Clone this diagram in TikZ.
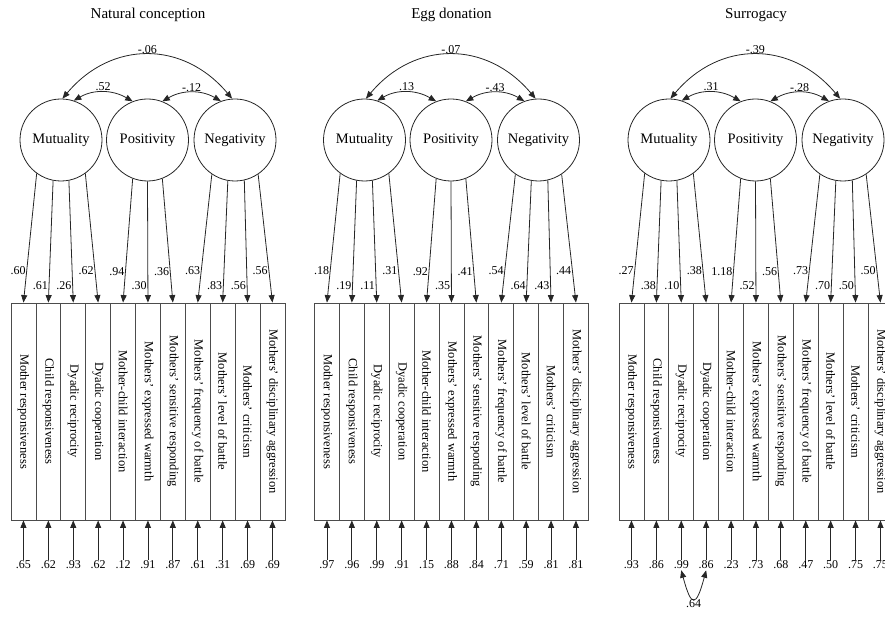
\documentclass[tikz,border=0pt]{standalone}
\usepackage{graphicx}
\usepackage{fontspec}
\setmainfont{Liberation Serif}
\usetikzlibrary{arrows.meta}

\tikzset{
  grouptitle/.style={font=\fontsize{15}{17}\selectfont},
  latent/.style={draw=black!85, line width=0.8pt, circle, minimum size=82pt, inner sep=0pt, font=\fontsize{14.5}{16}\selectfont},
  indicator/.style={draw=black!70, line width=0.8pt, minimum width=24.9pt, minimum height=217pt, inner sep=0pt, font=\fontsize{12.5}{14}\selectfont},
  coef/.style={font=\fontsize{12}{13}\selectfont, inner sep=1pt},
  loadarrow/.style={draw=black!85, line width=0.8pt, -{Triangle[length=7.5pt,width=6pt]}},
  covarrow/.style={draw=black!85, line width=0.8pt, {Triangle[length=7.5pt,width=6pt]}-{Triangle[length=7.5pt,width=6pt]}},
}

% indicator names, in box order
\newcommand{\itemname}[1]{\ifcase#1\or Mother responsiveness\or Child responsiveness\or Dyadic reciprocity\or Dyadic cooperation\or Mother-child interaction\or Mothers’ expressed warmth\or Mothers’ sensitive responding\or Mothers’ frequency of battle\or Mothers’ level of battle\or Mothers’ criticism\or Mothers’ disciplinary aggression\fi}

% one group: #1 id, #2 shift, #3 title, #4-#6 factor correlations, #7 loading/error pairs
\newcommand{\semgroup}[7]{%
\begin{scope}[xshift=#2pt]
\node[grouptitle] (title-#1) at (148,603) {#3};

% latent factors
\node[latent] (mut-#1) at (61,478) {Mutuality};
\node[latent] (pos-#1) at (147.5,478) {Positivity};
\node[latent] (neg-#1) at (235,478) {Negativity};

% correlations
\draw[covarrow] (mut-#1.72) to[out=30,in=150] node[coef,above] (rmp-#1) {#4} (pos-#1.111);
\draw[covarrow] (pos-#1.69) to[out=30,in=150] node[coef,above] (rpn-#1) {#5} (neg-#1.110);
\draw[covarrow] (mut-#1.88) to[out=50,in=130,looseness=1.15] node[coef,above] (rmn-#1) {#6} (neg-#1.94);

% indicators and loadings
\foreach \i/\src/\ang/\lp in {1/mut/234/.75, 2/mut/259/.86, 3/mut/281/.86, 4/mut/306/.75,
    5/pos/249/.75, 6/pos/270/.86, 7/pos/291/.75,
    8/neg/236/.75, 9/neg/260/.86, 10/neg/283/.86, 11/neg/304/.75} {
  \node[indicator] (ind-#1-\i) at ({11+24.9*(\i-0.5)},206.5) {\rotatebox{-90}{\itemname{\i}}};
  \draw[loadarrow] (\src-#1.\ang) -- coordinate[pos=\lp] (lc-#1-\i) (ind-#1-\i.north);
}

% coefficients and residuals
\foreach \l/\e [count=\i] in {#7} {
  \node[coef, anchor=east] (lv-#1-\i) at (lc-#1-\i) {\l};
  \node[coef] (err-#1-\i) at ({11+24.9*(\i-0.5)},53) {\e};
  \draw[loadarrow] (err-#1-\i.north) -- (ind-#1-\i.south);
}
\end{scope}}

\begin{document}
\begin{tikzpicture}[x=1pt,y=1pt]
\useasboundingbox (0,0) rectangle (885,618);
\clip (0,0) rectangle (885,618);

% Natural conception
\semgroup{A}{0}{Natural conception}{.52}{-.12}{-.06}
  {.60/.65, .61/.62, .26/.93, .62/.62, .94/.12, .30/.91, .36/.87, .63/.61, .83/.31, .56/.69, .56/.69}

% Egg donation
\semgroup{B}{303.5}{Egg donation}{.13}{-.43}{-.07}
  {.18/.97, .19/.96, .11/.99, .31/.91, .92/.15, .35/.88, .41/.84, .54/.71, .64/.59, .43/.81, .44/.81}

% Surrogacy
\semgroup{C}{608}{Surrogacy}{.31}{-.28}{-.39}
  {.27/.93, .38/.86, .10/.99, .38/.86, 1.18/.23, .52/.73, .56/.68, .73/.47, .70/.50, .50/.75, .50/.75}

% residual covariance
\draw[covarrow] (err-C-3.south) to[out=-75,in=-105,looseness=4] node[coef,below] (ecov) {.64} (err-C-4.south);
\end{tikzpicture}
\end{document}
